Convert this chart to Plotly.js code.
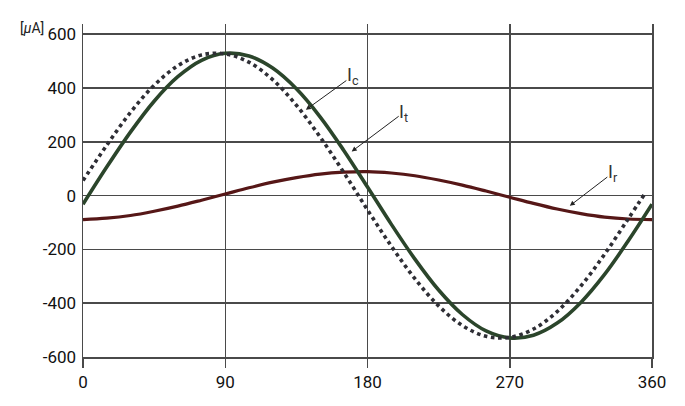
<!DOCTYPE html>
<html>
<head>
<meta charset="utf-8">
<script src="https://cdn.plot.ly/plotly-3.0.1.min.js"></script>
<style>html,body{margin:0;padding:0;background:#fff;}#chart{width:685px;height:406px;}</style>
</head>
<body>
<div id="chart"></div>
<script>
// phase angle in degrees
const angle = [0,15,30,45,60,75,90,105,120,135,150,165,180,195,210,225,240,255,270,285,300,315,330,345,360];
// Ic (capacitive current, µA)
const ic = [-32,106,236,351,442,503,529,519,474,397,293,168,32,-106,-236,-351,-442,-503,-529,-519,-474,-397,-293,-168,-32];
// It (total current, µA) - dotted
const itAngle = [0,15,30,45,60,75,90,105,120,135,150,165,180,195,210,225,240,255,270,285,300,315,330,345,356];
const it = [56,187,309,410,483,523,527,496,431,336,218,86,-53,-187,-309,-410,-483,-523,-527,-496,-431,-336,-218,-86,12];
// Ir (resistive current, µA)
const ir = [-89,-84,-74,-58,-39,-17,6,29,50,67,80,87,89,84,74,58,39,17,-6,-29,-50,-67,-80,-87,-89];

const xTicks = [0,90,180,270,360];
const xTickText = ['0','90','180','270','360'];
const yTicks = [-600,-400,-200,0,200,400,600];
const yTickText = ['-600','-400','-200','0','200','400','600'];

const gridCol = '#4a4a4a';
const font = {family:'Roboto, "Liberation Sans", sans-serif', size:17, color:'#111'};

const traces = [
  {x: angle, y: ir, mode:'lines', line:{color:'#561717', width:3.2, shape:'spline', smoothing:1}},
  {x: angle, y: ic, mode:'lines', line:{color:'#2b452b', width:3.6, shape:'spline', smoothing:1}},
  {x: itAngle, y: it, mode:'lines', line:{color:'#2e2e35', width:3.6, dash:'dot', shape:'spline', smoothing:1}}
];

const labelFont = {family:'Roboto, "Liberation Sans", sans-serif', size:18, color:'#333'};
const arrowCommon = {showarrow:true, arrowhead:2, arrowsize:1, arrowwidth:1, arrowcolor:'#222', xref:'x', yref:'y', standoff:0, font:labelFont, xanchor:'center', yanchor:'middle', borderpad:0};

const layout = {
  width:685, height:406,
  margin:{l:83, r:33, t:24, b:49, pad:0},
  paper_bgcolor:'#fff', plot_bgcolor:'#fff',
  showlegend:false,
  font: font,
  xaxis:{
    range:[0,360], tickmode:'array', tickvals:xTicks, ticktext:xTickText,
    showgrid:true, gridcolor:gridCol, gridwidth:1.5, zeroline:false,
    ticks:'outside', ticklen:9, tickwidth:1.5, tickcolor:gridCol,
    showline:true, linecolor:gridCol, linewidth:1.5, mirror:false,
    tickfont:font
  },
  yaxis:{
    range:[-600,638], tickmode:'array', tickvals:yTicks, ticktext:yTickText,
    showgrid:true, gridcolor:gridCol, gridwidth:1.5, zeroline:false,
    ticks:'', showline:true, linecolor:gridCol, linewidth:1.5, mirror:true,
    tickfont:font, ticklabelstandoff:2
  },
  annotations:[
    Object.assign({}, arrowCommon, {x:141, y:319, ax:47, ay:-34, text:'I<sub>c</sub>'}),
    Object.assign({}, arrowCommon, {x:170, y:164, ax:52, ay:-39, text:'I<sub>t</sub>'}),
    Object.assign({}, arrowCommon, {x:308, y:-38, ax:43, ay:-33, text:'I<sub>r</sub>'}),
    {xref:'paper', yref:'paper', x:(18-83)/569, y:(406-49-28)/333, text:'[<i>μ</i>A]', showarrow:false, font:{family:'Roboto, sans-serif', size:14, color:'#222'}, xanchor:'left', yanchor:'middle'}
  ]
};

Plotly.newPlot('chart', traces, layout, {staticPlot:true, displayModeBar:false});
</script>
</body>
</html>
